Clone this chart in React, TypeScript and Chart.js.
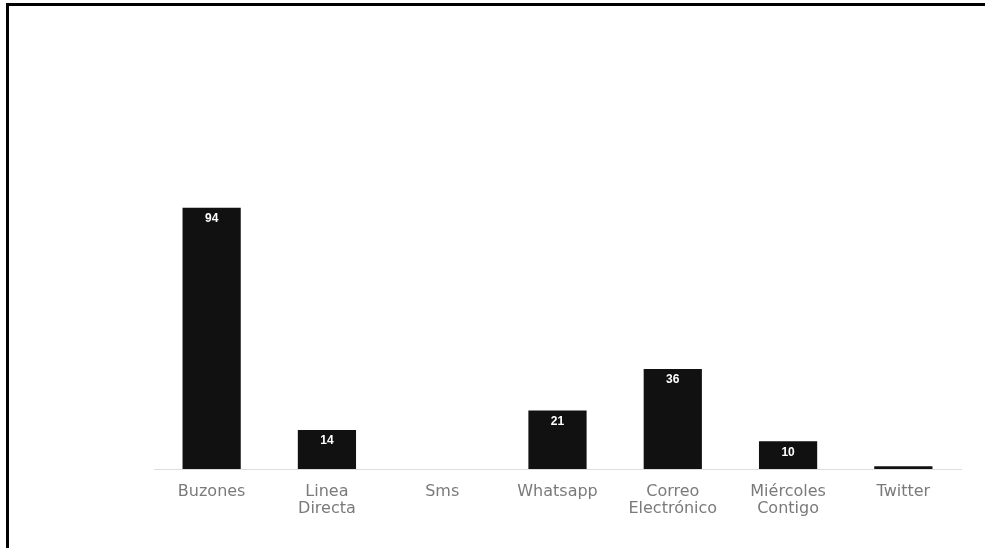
import React, { useEffect, useRef } from "react";
import { Chart, registerables } from "chart.js";

Chart.register(...registerables);

const categories: (string | string[])[] = [
  "Buzones",
  ["Linea", "Directa"],
  "Sms",
  "Whatsapp",
  ["Correo", "Electrónico"],
  ["Miércoles", "Contigo"],
  "Twitter",
];
const values: number[] = [94, 14, 0, 21, 36, 10, 1];

const valueLabelPlugin = {
  id: "valueLabels",
  afterDatasetsDraw(chart: any) {
    const { ctx } = chart;
    const meta = chart.getDatasetMeta(0);
    ctx.save();
    ctx.fillStyle = "#ffffff";
    ctx.font = "bold 12px 'Liberation Sans', Arial, sans-serif";
    ctx.textAlign = "center";
    ctx.textBaseline = "middle";
    meta.data.forEach((bar: any, i: number) => {
      const v = values[i];
      if (v < 5) return;
      ctx.fillText(String(v), bar.x, bar.y + 11);
    });
    ctx.restore();
  },
};

export default function App() {
  const ref = useRef<HTMLCanvasElement | null>(null);
  useEffect(() => {
    if (!ref.current) return;
    const chart = new Chart(ref.current, {
      type: "bar",
      data: {
        labels: categories,
        datasets: [
          {
            data: values,
            backgroundColor: "#111111",
            borderColor: "#111111",
            borderWidth: 0,
            categoryPercentage: 1,
            barPercentage: 0.505,
          },
        ],
      },
      options: {
        animation: false,
        responsive: false,
        layout: { padding: { left: 154, right: 24, top: 191, bottom: 0 } },
        plugins: { legend: { display: false }, tooltip: { enabled: false } },
        scales: {
          y: { display: false, min: 0, max: 100 },
          x: {
            grid: { display: false },
            border: { display: true, color: "#dddddd", width: 1 },
            ticks: {
              color: "#7a7a7a",
              padding: 6,
              maxRotation: 0,
              autoSkip: false,
              font: { size: 16, family: "'DejaVu Sans', sans-serif", lineHeight: 1.06 },
            },
            afterFit: (scale: any) => {
              scale.height = 79;
            },
          },
        },
      },
      plugins: [valueLabelPlugin],
    });
    return () => chart.destroy();
  }, []);
  return (
    <div style={{ position: "fixed", left: 0, top: 0, width: 985, height: 548, background: "#fff" }}>
      <canvas ref={ref} width={985} height={548} style={{ position: "absolute", left: 0, top: 0 }} />
      <div
        style={{
          position: "absolute",
          left: 6,
          top: 3,
          right: 0,
          bottom: 0,
          borderTop: "3px solid #000",
          borderLeft: "3px solid #000",
        }}
      />
    </div>
  );
}
